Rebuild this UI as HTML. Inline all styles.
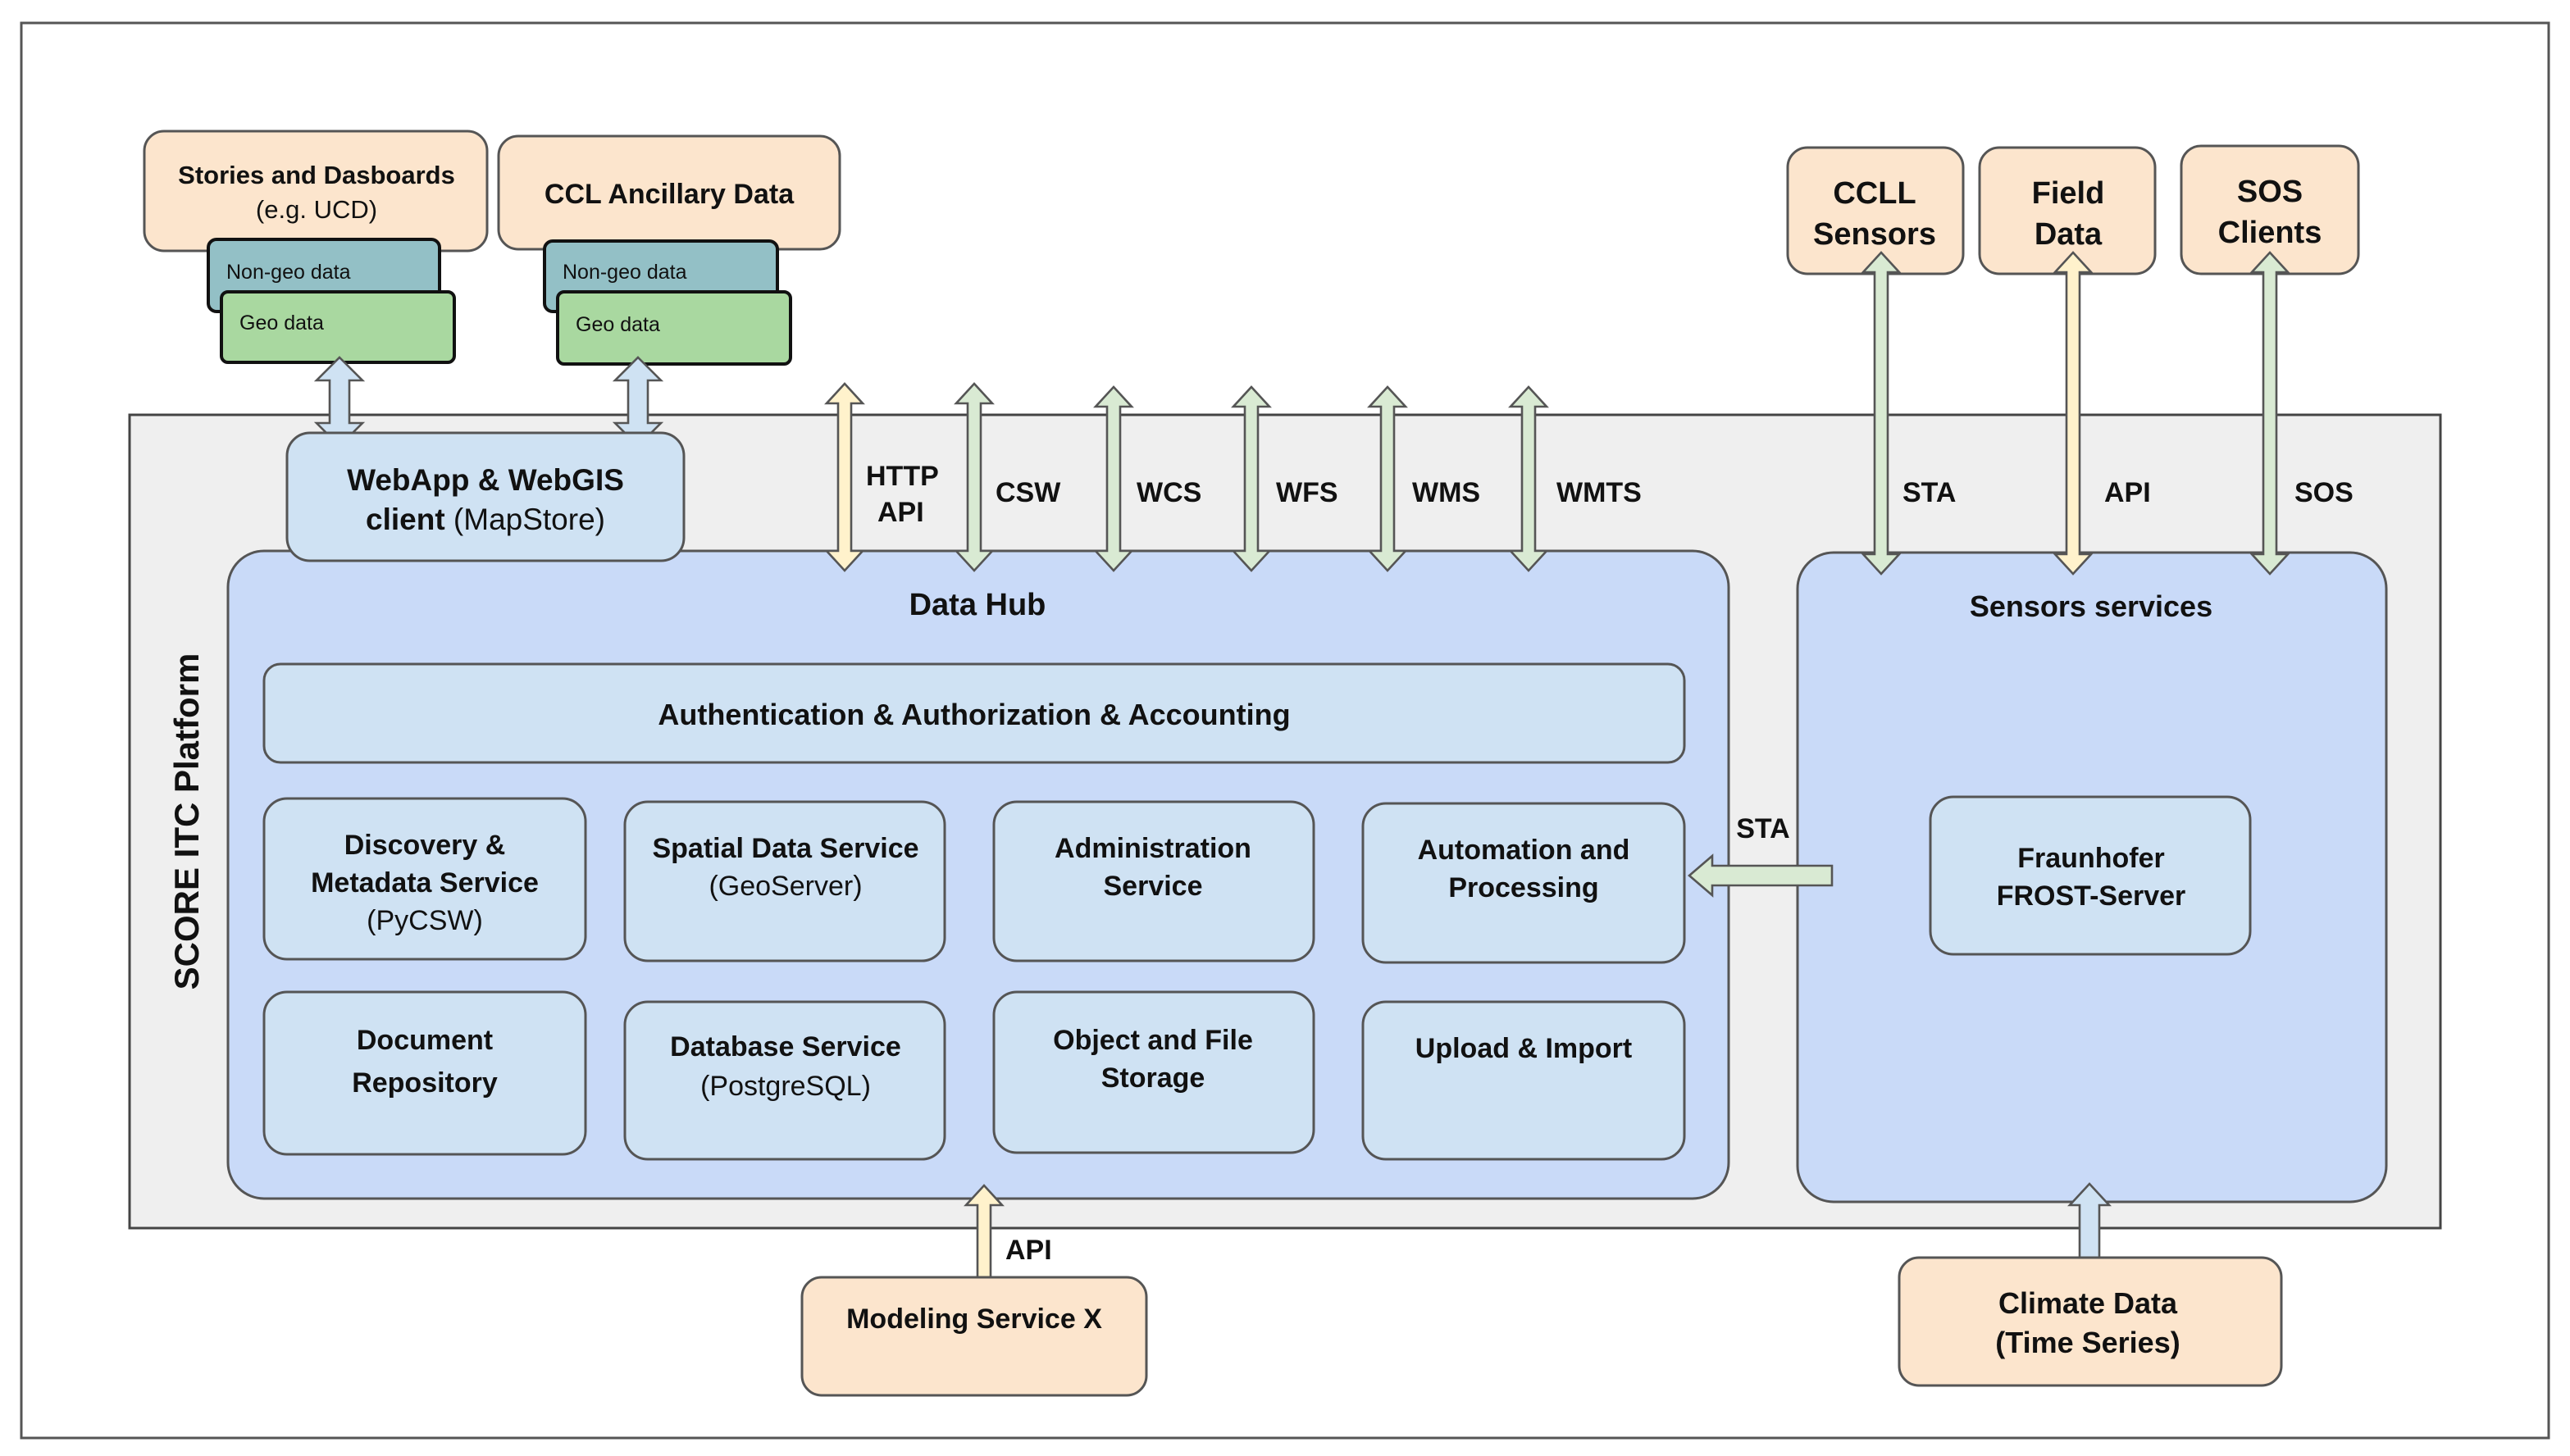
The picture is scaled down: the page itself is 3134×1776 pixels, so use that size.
<!DOCTYPE html>
<html><head><meta charset="utf-8"><style>
html,body{margin:0;padding:0;background:#fff;}
svg{display:block;}
text{font-family:"Liberation Sans",Arial,sans-serif;fill:#111;}
.b{font-weight:bold;}
</style></head><body>
<svg width="3134" height="1776" viewBox="0 0 1567 888" xmlns="http://www.w3.org/2000/svg">
<rect x="0" y="0" width="1567" height="888" fill="#fff"/>
<rect x="13" y="14" width="1541" height="863" fill="#fff" stroke="#555" stroke-width="1.5"/>
<!-- platform -->
<rect x="79" y="253" width="1409" height="496" fill="#efefef" stroke="#444" stroke-width="1.5"/>
<text x="121" y="501" class="b" font-size="21" text-anchor="middle" transform="rotate(-90 121 501)">SCORE ITC Platform</text>

<!-- top-left boxes -->
<rect x="88" y="80" width="209" height="73" rx="12" fill="#fce5cd" stroke="#555" stroke-width="1.5"/>
<text x="193" y="112" class="b" font-size="15.5" text-anchor="middle">Stories and Dasboards</text>
<text x="193" y="133" font-size="15.5" text-anchor="middle" fill="#222">(e.g. UCD)</text>
<rect x="127" y="146" width="141" height="44" rx="5" fill="#93c0c6" stroke="#111" stroke-width="2"/>
<text x="138" y="170" font-size="12.5" fill="#222">Non-geo data</text>
<rect x="135" y="178" width="142" height="43" rx="4" fill="#a9d8a0" stroke="#111" stroke-width="2"/>
<text x="146" y="201" font-size="12.5" fill="#222">Geo data</text>

<rect x="304" y="83" width="208" height="69" rx="12" fill="#fce5cd" stroke="#555" stroke-width="1.5"/>
<text x="408" y="124" class="b" font-size="17" text-anchor="middle">CCL Ancillary Data</text>
<rect x="332" y="147" width="142" height="43" rx="5" fill="#93c0c6" stroke="#111" stroke-width="2"/>
<text x="343" y="170" font-size="12.5" fill="#222">Non-geo data</text>
<rect x="340" y="178" width="142" height="44" rx="4" fill="#a9d8a0" stroke="#111" stroke-width="2"/>
<text x="351" y="202" font-size="12.5" fill="#222">Geo data</text>

<!-- blue double arrows to webapp -->
<g fill="#cfe2f3" stroke="#555" stroke-width="1.3">
<path d="M207,218 L221,232 L213,232 L213,258 L221,258 L207,272 L193,258 L201,258 L201,232 L193,232 Z"/>
<path d="M389,218 L403,232 L395,232 L395,258 L403,258 L389,272 L375,258 L383,258 L383,232 L375,232 Z"/>
</g>

<!-- Data hub -->
<rect x="139" y="336" width="915" height="395" rx="22" fill="#c9daf8" stroke="#555" stroke-width="1.5"/>
<!-- WebApp -->
<rect x="175" y="264" width="242" height="78" rx="14" fill="#cfe2f3" stroke="#555" stroke-width="1.5"/>
<text x="296" y="299" class="b" font-size="18.5" text-anchor="middle">WebApp &amp; WebGIS</text>
<text x="296" y="323" font-size="18.5" text-anchor="middle"><tspan class="b">client</tspan> (MapStore)</text>

<text x="596" y="375" class="b" font-size="19" text-anchor="middle">Data Hub</text>
<rect x="161" y="405" width="866" height="60" rx="10" fill="#cfe2f3" stroke="#555" stroke-width="1.5"/>
<text x="594" y="442" class="b" font-size="18" text-anchor="middle">Authentication &amp; Authorization &amp; Accounting</text>

<g fill="#cfe2f3" stroke="#555" stroke-width="1.5">
<rect x="161" y="487" width="196" height="98" rx="14"/>
<rect x="381" y="489" width="195" height="97" rx="14"/>
<rect x="606" y="489" width="195" height="97" rx="14"/>
<rect x="831" y="490" width="196" height="97" rx="14"/>
<rect x="161" y="605" width="196" height="99" rx="14"/>
<rect x="381" y="611" width="195" height="96" rx="14"/>
<rect x="606" y="605" width="195" height="98" rx="14"/>
<rect x="831" y="611" width="196" height="96" rx="14"/>
</g>
<g font-size="17" text-anchor="middle">
<text x="259" y="521" class="b">Discovery &amp;</text>
<text x="259" y="544" class="b">Metadata Service</text>
<text x="259" y="567">(PyCSW)</text>
<text x="479" y="523" class="b">Spatial Data Service</text>
<text x="479" y="546">(GeoServer)</text>
<text x="703" y="523" class="b">Administration</text>
<text x="703" y="546" class="b">Service</text>
<text x="929" y="524" class="b">Automation and</text>
<text x="929" y="547" class="b">Processing</text>
<text x="259" y="640" class="b">Document</text>
<text x="259" y="666" class="b">Repository</text>
<text x="479" y="644" class="b">Database Service</text>
<text x="479" y="668">(PostgreSQL)</text>
<text x="703" y="640" class="b">Object and File</text>
<text x="703" y="663" class="b">Storage</text>
<text x="929" y="645" class="b">Upload &amp; Import</text>
</g>

<!-- sensors services -->
<rect x="1096" y="337" width="359" height="396" rx="22" fill="#c9daf8" stroke="#555" stroke-width="1.5"/>
<text x="1275" y="376" class="b" font-size="18" text-anchor="middle">Sensors services</text>
<rect x="1177" y="486" width="195" height="96" rx="14" fill="#cfe2f3" stroke="#555" stroke-width="1.5"/>
<text x="1275" y="529" class="b" font-size="17" text-anchor="middle">Fraunhofer</text>
<text x="1275" y="552" class="b" font-size="17" text-anchor="middle">FROST-Server</text>

<!-- STA left arrow -->
<path d="M1030,534 L1044,522 L1044,528 L1117,528 L1117,540 L1044,540 L1044,546 Z" fill="#d9ead3" stroke="#555" stroke-width="1.3"/>
<text x="1075" y="511" class="b" font-size="17" text-anchor="middle">STA</text>

<!-- top service arrows -->
<g stroke="#555" stroke-width="1.3">
<path d="M515,234 L526,246 L519,246 L519,336 L526,336 L515,348 L504,336 L511,336 L511,246 L504,246 Z" fill="#fff2cc"/>
<path d="M594,234 L605,246 L598,246 L598,336 L605,336 L594,348 L583,336 L590,336 L590,246 L583,246 Z" fill="#d9ead3"/>
<path d="M679,236 L690,248 L683,248 L683,336 L690,336 L679,348 L668,336 L675,336 L675,248 L668,248 Z" fill="#d9ead3"/>
<path d="M763,236 L774,248 L767,248 L767,336 L774,336 L763,348 L752,336 L759,336 L759,248 L752,248 Z" fill="#d9ead3"/>
<path d="M846,236 L857,248 L850,248 L850,336 L857,336 L846,348 L835,336 L842,336 L842,248 L835,248 Z" fill="#d9ead3"/>
<path d="M932,236 L943,248 L936,248 L936,336 L943,336 L932,348 L921,336 L928,336 L928,248 L921,248 Z" fill="#d9ead3"/>
</g>
<g class="b" font-size="17">
<text x="528" y="296">HTTP</text>
<text x="535" y="318">API</text>
<text x="607" y="306">CSW</text>
<text x="693" y="306">WCS</text>
<text x="778" y="306">WFS</text>
<text x="861" y="306">WMS</text>
<text x="949" y="306">WMTS</text>
</g>

<!-- right top boxes -->
<g fill="#fce5cd" stroke="#555" stroke-width="1.5">
<rect x="1090" y="90" width="107" height="77" rx="12"/>
<rect x="1207" y="90" width="107" height="77" rx="12"/>
<rect x="1330" y="89" width="108" height="78" rx="12"/>
</g>
<g class="b" font-size="19" text-anchor="middle">
<text x="1143" y="124">CCLL</text>
<text x="1143" y="149">Sensors</text>
<text x="1261" y="124">Field</text>
<text x="1261" y="149">Data</text>
<text x="1384" y="123">SOS</text>
<text x="1384" y="148">Clients</text>
</g>
<g stroke="#555" stroke-width="1.3">
<path d="M1147,154 L1158,166 L1151,166 L1151,338 L1158,338 L1147,350 L1136,338 L1143,338 L1143,166 L1136,166 Z" fill="#d9ead3"/>
<path d="M1264,154 L1275,166 L1268,166 L1268,338 L1275,338 L1264,350 L1253,338 L1260,338 L1260,166 L1253,166 Z" fill="#fff2cc"/>
<path d="M1384,154 L1395,166 L1388,166 L1388,338 L1395,338 L1384,350 L1373,338 L1380,338 L1380,166 L1373,166 Z" fill="#d9ead3"/>
</g>
<g class="b" font-size="17">
<text x="1160" y="306">STA</text>
<text x="1283" y="306">API</text>
<text x="1399" y="306">SOS</text>
</g>

<!-- bottom -->
<path d="M600,723 L611,735 L604,735 L604,779 L611,779 L600,791 L589,779 L596,779 L596,735 L589,735 Z" fill="#fff2cc" stroke="#555" stroke-width="1.3"/>
<text x="613" y="768" class="b" font-size="17">API</text>
<rect x="489" y="779" width="210" height="72" rx="12" fill="#fce5cd" stroke="#555" stroke-width="1.5"/>
<text x="594" y="810" class="b" font-size="17" text-anchor="middle">Modeling Service X</text>

<path d="M1274,722 L1286,735 L1280,735 L1280,776 L1268,776 L1268,735 L1262,735 Z" fill="#cfe2f3" stroke="#555" stroke-width="1.3"/>
<rect x="1158" y="767" width="233" height="78" rx="12" fill="#fce5cd" stroke="#555" stroke-width="1.5"/>
<text x="1273" y="801" class="b" font-size="18" text-anchor="middle">Climate Data</text>
<text x="1273" y="825" class="b" font-size="18" text-anchor="middle">(Time Series)</text>
</svg>
</body></html>
